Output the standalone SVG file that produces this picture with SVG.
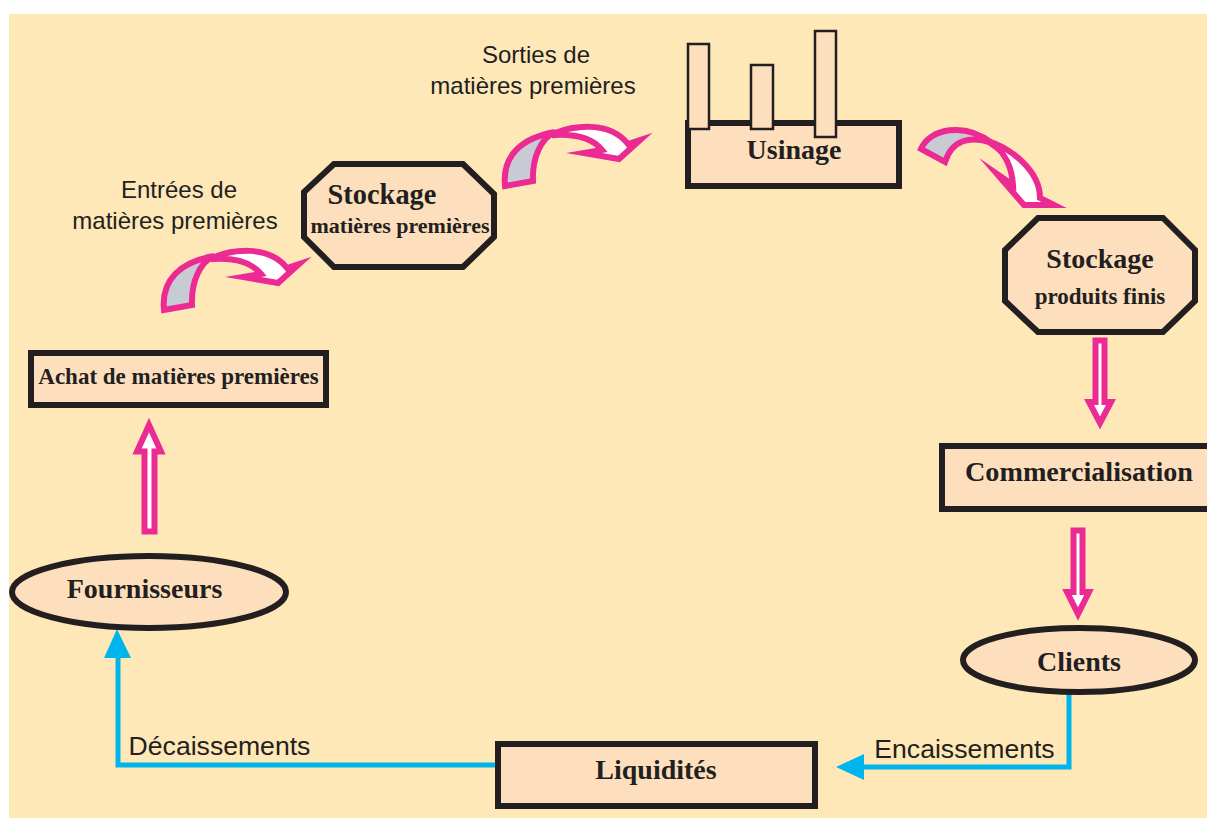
<svg xmlns="http://www.w3.org/2000/svg" width="1207" height="818" viewBox="0 0 1207 818">
<style>
.n{fill:#fddfbd;stroke:#231f20;stroke-width:6}
.c{fill:#fddfbd;stroke:#231f20;stroke-width:2.5}
.t{font-family:"Liberation Serif",serif;font-weight:bold;fill:#231f20;text-anchor:middle}
.s{font-family:"Liberation Sans",sans-serif;fill:#231f20;text-anchor:middle;font-size:24px}
.m{font-size:26.600px}
.p{fill:#fff;stroke:#ec2a94;stroke-width:6;stroke-miterlimit:10}
.g{fill:#c8cbd3;stroke:#ec2a94;stroke-width:6;stroke-linejoin:miter}
.b{fill:none;stroke:#00b5ec;stroke-width:5}
.h{fill:#00b5ec}
</style>
<defs>
<g id="curved">
<path class="p" d="M214 257C232 250 268 244 287 268L299 264L278 283L243 277L261 274C252 263 235 258 214 259Z"/>
<path class="g" d="M164 310C161 280 180 262 214 256C200 262 191 282 192 305Z"/>
</g>
</defs>
<rect width="1207" height="818" fill="#fff"/>
<rect x="9" y="14" width="1198" height="804" fill="#fee8b8"/>
<g id="connectors">
<use href="#curved"/>
<use href="#curved" transform="translate(341 -124)"/>
<g id="curve3">
<path class="p" d="M988 141C1010 148 1040 170 1040 198L1054 205L1024 205L997 174L1013 185C1012 168 1005 152 993 145Z"/>
<path class="g" d="M921 149C930 128 965 122 992 143C970 135 952 140 945 162Z"/>
</g>
<path class="p" d="M1095.500 340.500H1104.500V402H1111L1100 423L1089 402H1095.500Z"/>
<path class="p" d="M1073.500 530.500H1082.500V592H1089L1078 614L1067 592H1073.500Z"/>
<path class="p" d="M144.500 531.500H154.500V451.500H161L149 425L137 451.500H144.500Z"/>
<polyline class="b" points="1069,692 1069,767 860,767"/>
<polygon class="h" points="836,767 864,754 864,780"/>
<polyline class="b" points="497,765 118,765 118,655"/>
<polygon class="h" points="117,629 131,658 104,658"/>
</g>
<g id="stockage-mp">
<polygon class="n" points="334,164 463,164 494,194 494,237 463,267 334,267 304,237 304,192"/>
<text class="t" x="382" y="204" font-size="28.400">Stockage</text>
<text class="t" x="400" y="233" font-size="22">matières premières</text>
</g>
<g id="usinage">
<rect class="n" x="688" y="123" width="211" height="63"/>
<rect class="c" x="688" y="44" width="21" height="85"/>
<rect class="c" x="751" y="65" width="22" height="64"/>
<rect class="c" x="815" y="31" width="21" height="106"/>
<text class="t" x="794" y="159" font-size="28">Usinage</text>
</g>
<g id="stockage-pf">
<polygon class="n" points="1038,218 1163,218 1195,250 1195,301 1163,332 1038,332 1005,301 1005,250"/>
<text class="t" x="1100" y="268" font-size="28">Stockage</text>
<text class="t" x="1100" y="304" font-size="23">produits finis</text>
</g>
<g id="achat">
<rect class="n" x="31" y="353" width="295" height="52"/>
<text class="t" x="178.500" y="384" font-size="23">Achat de matières premières</text>
</g>
<g id="commercialisation">
<rect class="n" x="942" y="446" width="270" height="63"/>
<text class="t" x="1079" y="481" font-size="28.200">Commercialisation</text>
</g>
<g id="fournisseurs">
<ellipse class="n" cx="149" cy="592" rx="137" ry="36"/>
<text class="t" x="144.500" y="598" font-size="28">Fournisseurs</text>
</g>
<g id="clients">
<ellipse class="n" cx="1079" cy="660" rx="116" ry="32"/>
<text class="t" x="1079" y="671" font-size="28">Clients</text>
</g>
<g id="liquidites">
<rect class="n" x="498" y="744" width="317" height="62"/>
<text class="t" x="656" y="779" font-size="28">Liquidités</text>
</g>
<g id="labels">
<text class="s" x="179" y="198">Entrées de</text>
<text class="s" x="175" y="229">matières premières</text>
<text class="s" x="536" y="63">Sorties de</text>
<text class="s" x="533" y="94">matières premières</text>
<text class="s m" x="219.500" y="755">Décaissements</text>
<text class="s m" x="964.500" y="758">Encaissements</text>
</g>
</svg>
